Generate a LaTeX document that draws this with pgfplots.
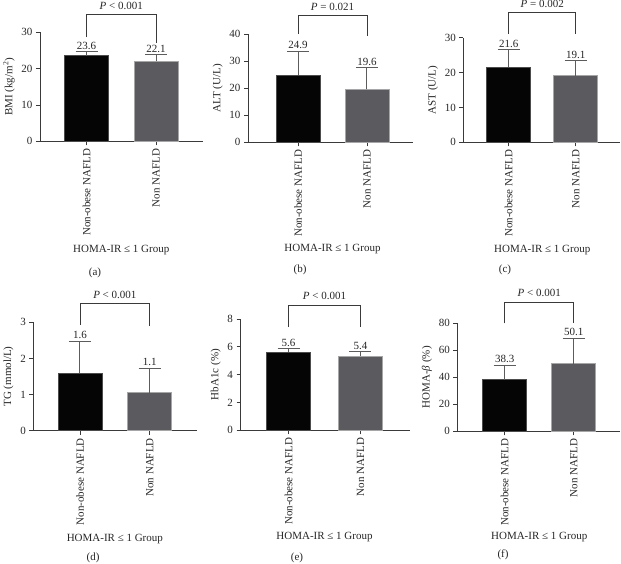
\documentclass[border=0pt]{standalone}
\usepackage{fontspec}
\setmainfont{Liberation Serif}
\usepackage{pgfplots}
\pgfplotsset{compat=1.18}
\newcommand\fs{\fontsize{11bp}{13bp}\selectfont}
\definecolor{barblack}{HTML}{050505}
\definecolor{bargray}{HTML}{5A5A5F}
\definecolor{errgray}{HTML}{5C5C5C}
\definecolor{axgray}{HTML}{3A3A3A}
\pgfplotsset{
  panel/.style={
    scale only axis, clip=false, anchor=south west,
    axis x line*=bottom, axis y line*=left,
    axis line style={draw=axgray, line width=0.8pt},
    xtick={0,1}, xticklabels={Non-obese NAFLD, Non NAFLD},
    xticklabel style={rotate=90, anchor=east, font=\fs, text=black!85},
    yticklabel style={font=\fs, text=black!85},
    ylabel style={font=\fs, text=black!85},
    tick style={draw=axgray, line width=0.8pt},
    major tick length=4bp, tick align=outside,
    minor tick num=0,
    ymin=0,
    /pgf/number format/assume math mode=true,
  },
  blackbar/.style={ybar, bar shift=0pt, bar width=44bp, fill=barblack, draw=black!70, line width=0.6pt,
    error bars/.cd, y dir=plus, y explicit,
    error bar style={errgray, line width=1pt},
    error mark options={rotate=90, errgray, line width=1pt, mark size=11bp}},
  graybar/.style={ybar, bar shift=0pt, bar width=44bp, fill=bargray, draw=black!35, line width=0.6pt,
    error bars/.cd, y dir=plus, y explicit,
    error bar style={errgray, line width=1pt},
    error mark options={rotate=90, errgray, line width=1pt, mark size=11bp}},
  vallabel/.style={draw=none, mark=none, only marks, nodes near coords, point meta=explicit symbolic,
    nodes near coords style={anchor=south, inner sep=2bp, font=\fs, text=black!85}},
}
\begin{document}
\begin{tikzpicture}
\useasboundingbox (0,0) rectangle (621bp,-564bp);
% ---------------- (a) BMI
\begin{axis}[panel, at={(40bp,-141.3bp)}, width=163bp, height=109bp,
  xmin=-0.669, xmax=1.676, ymax=30, ytick={0,10,20,30},
  ylabel={BMI (kg/m\textsuperscript{2})}]
\addplot[blackbar] coordinates {(0,23.6) +- (0,1.0)};
\addplot[graybar] coordinates {(1,22.1) +- (0,1.7)};
\addplot[vallabel] coordinates {(0,24.6)[23.6] (1,23.8)[22.1]};
\draw[axgray, line width=0.8pt] (axis cs:0,28.7) -- (axis cs:0,34.8) -- (axis cs:1,34.8) -- (axis cs:1,27.1);
\node[anchor=base, font=\fs, yshift=5bp, text=black!85] at (axis cs:0.5,34.8) {\textit{P} < 0.001};
\node[font=\fs, yshift=-108.7bp, text=black!85] at (axis cs:0.5,0) {HOMA-IR ≤ 1 Group};
\end{axis}
% ---------------- (b) ALT
\begin{axis}[panel, at={(248bp,-142.3bp)}, width=165bp, height=108bp,
  xmin=-0.725, xmax=1.667, ymax=40, ytick={0,10,20,30,40},
  ylabel={ALT (U/L)}]
\addplot[blackbar] coordinates {(0,24.9) +- (0,8.8)};
\addplot[graybar] coordinates {(1,19.6) +- (0,8.1)};
\addplot[vallabel] coordinates {(0,33.7)[24.9] (1,27.7)[19.6]};
\draw[axgray, line width=0.8pt] (axis cs:0,40.1) -- (axis cs:0,47.1) -- (axis cs:1,47.1) -- (axis cs:1,39.4);
\node[anchor=base, font=\fs, yshift=5bp, text=black!85] at (axis cs:0.5,47.1) {\textit{P} = 0.021};
\node[font=\fs, yshift=-107bp, text=black!85] at (axis cs:0.5,0) {HOMA-IR ≤ 1 Group};
\end{axis}
% ---------------- (c) AST
\begin{axis}[panel, at={(463.3bp,-142.3bp)}, width=156.7bp, height=104.6bp,
  xmin=-0.678, xmax=1.661, ymax=30, ytick={0,10,20,30},
  ylabel={AST (U/L)}]
\addplot[blackbar] coordinates {(0,21.6) +- (0,5.0)};
\addplot[graybar] coordinates {(1,19.1) +- (0,4.4)};
\addplot[vallabel] coordinates {(0,26.6)[21.6] (1,23.5)[19.1]};
\draw[axgray, line width=0.8pt] (axis cs:0,31.2) -- (axis cs:0,37.2) -- (axis cs:1,37.2) -- (axis cs:1,31.2);
\node[anchor=base, font=\fs, yshift=5bp, text=black!85] at (axis cs:0.5,37.2) {\textit{P} = 0.002};
\node[font=\fs, yshift=-107.7bp, text=black!85] at (axis cs:0.5,0) {HOMA-IR ≤ 1 Group};
\end{axis}
% ---------------- (d) TG
\begin{axis}[panel, at={(33.3bp,-430.7bp)}, width=163.7bp, height=108.4bp,
  xmin=-0.670, xmax=1.679, ymax=3, ytick={0,1,2,3},
  ylabel={TG (mmol/L)}]
\addplot[blackbar] coordinates {(0,1.6) +- (0,0.88)};
\addplot[graybar] coordinates {(1,1.05) +- (0,0.68)};
\addplot[vallabel] coordinates {(0,2.48)[1.6] (1,1.73)[1.1]};
\draw[axgray, line width=0.8pt] (axis cs:0,2.93) -- (axis cs:0,3.53) -- (axis cs:1,3.53) -- (axis cs:1,2.90);
\node[anchor=base, font=\fs, yshift=5bp, text=black!85] at (axis cs:0.5,3.53) {\textit{P} < 0.001};
\node[font=\fs, yshift=-108.3bp, text=black!85] at (axis cs:0.5,0) {HOMA-IR ≤ 1 Group};
\end{axis}
% ---------------- (e) HbA1c
\begin{axis}[panel, at={(240.5bp,-430.3bp)}, width=169.5bp, height=111.3bp,
  xmin=-0.667, xmax=1.688, ymax=8, ytick={0,2,4,6,8},
  ylabel={HbA1c (\%)}]
\addplot[blackbar] coordinates {(0,5.6) +- (0,0.25)};
\addplot[graybar] coordinates {(1,5.35) +- (0,0.28)};
\addplot[vallabel] coordinates {(0,5.85)[5.6] (1,5.63)[5.4]};
\draw[axgray, line width=0.8pt] (axis cs:0,7.41) -- (axis cs:0,9.01) -- (axis cs:1,9.01) -- (axis cs:1,7.41);
\node[anchor=base, font=\fs, yshift=5bp, text=black!85] at (axis cs:0.5,9.01) {\textit{P} < 0.001};
\node[font=\fs, yshift=-106.7bp, text=black!85] at (axis cs:0.5,0) {HOMA-IR ≤ 1 Group};
\end{axis}
% ---------------- (f) HOMA-beta
\begin{axis}[panel, at={(457.3bp,-431.3bp)}, width=162.7bp, height=108bp,
  xmin=-0.687, xmax=1.671, ymax=80, ytick={0,20,40,60,80},
  ylabel={HOMA-\textit{β} (\%)}]
\addplot[blackbar] coordinates {(0,38.3) +- (0,10.6)};
\addplot[graybar] coordinates {(1,50.1) +- (0,18.8)};
\addplot[vallabel] coordinates {(0,48.9)[38.3] (1,68.9)[50.1]};
\draw[axgray, line width=0.8pt] (axis cs:0,80) -- (axis cs:0,95.8) -- (axis cs:1,95.8) -- (axis cs:1,80);
\node[anchor=base, font=\fs, yshift=5bp, text=black!85] at (axis cs:0.5,95.8) {\textit{P} < 0.001};
\node[font=\fs, yshift=-105.7bp, text=black!85] at (axis cs:0.5,0) {HOMA-IR ≤ 1 Group};
\end{axis}
% panel letters
\node[font=\fs, text=black!85] at (95bp,-273bp) {(a)};
\node[font=\fs, text=black!85] at (300bp,-270bp) {(b)};
\node[font=\fs, text=black!85] at (505bp,-270bp) {(c)};
\node[font=\fs, text=black!85] at (93bp,-558bp) {(d)};
\node[font=\fs, text=black!85] at (297bp,-558bp) {(e)};
\node[font=\fs, text=black!85] at (503bp,-555bp) {(f)};
\end{tikzpicture}
\end{document}
